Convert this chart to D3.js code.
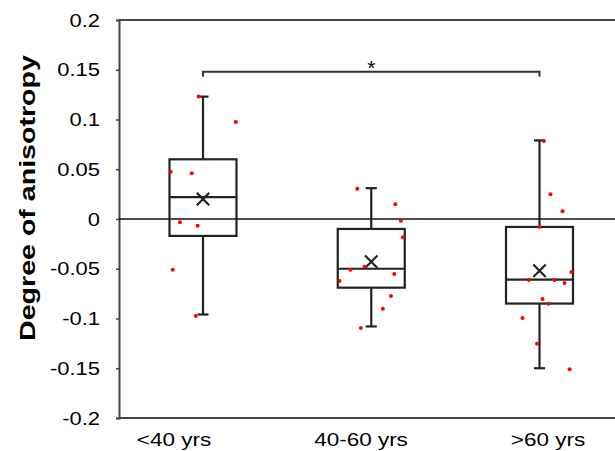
<!DOCTYPE html>
<html>
<head>
<meta charset="utf-8">
<script src="https://cdn.jsdelivr.net/npm/d3@7"></script>
<style>
  body { margin: 0; background: #fff; }
  svg { display: block; font-family: "Liberation Sans", Arial, sans-serif; }
</style>
</head>
<body>
<div id="chart"></div>
<script>
// categories and box stats
const groups = ["<40 yrs", "40-60 yrs", ">60 yrs"];
const whiskerLow = [-0.096, -0.108, -0.150];
const q1 = [-0.017, -0.069, -0.085];
const median = [0.022, -0.050, -0.061];
const q3 = [0.060, -0.010, -0.008];
const whiskerHigh = [0.123, 0.031, 0.079];
const means = [0.020, -0.043, -0.052];

// individual points: value and horizontal jitter (in category units)
const pointsLt40 = [0.123, 0.0975, 0.0476, 0.046, -0.0033, -0.0067, -0.051, -0.0975];
const jitterLt40 = [-0.026, 0.195, -0.192, -0.067, -0.137, -0.032, -0.18, -0.043];
const points40to60 = [0.0305, 0.0148, -0.0017, -0.0184, -0.048, -0.051, -0.0553, -0.0623, -0.0774, -0.0901, -0.1095];
const jitter40to60 = [-0.083, 0.143, 0.176, 0.188, -0.04, -0.123, 0.137, -0.189, 0.117, 0.069, -0.062];
const pointsGt60 = [0.0784, 0.0248, 0.0077, -0.0077, -0.0533, -0.0613, -0.0613, -0.0643, -0.0804, -0.0851, -0.0995, -0.1253, -0.151];
const jitterGt60 = [0.026, 0.065, 0.137, 0, 0.19, -0.063, 0.089, 0.149, 0.018, 0.054, -0.101, -0.015, 0.179];

const yTicks = [0.2, 0.15, 0.1, 0.05, 0, -0.05, -0.1, -0.15, -0.2];
const sigPair = [0, 2];
const sigValue = 0.148;

const width = 615, height = 451;
const svg = d3.select("#chart").append("svg")
    .attr("width", width).attr("height", height);

const y = d3.scaleLinear().domain([-0.2, 0.2]).range([418, 20]);
const x = d3.scaleLinear().domain([0, 2]).range([203, 539.5]);   // box positions
const xLab = d3.scaleLinear().domain([0, 2]).range([174, 548]);  // category labels sit on their own axis
const boxW = 67, capW = 11;
const ink = "#222";

// stretched text helper (the picture's text is wider than plain Arial)
function stretchText(g, tx, ty, sx, txt, anchor, size, weight, rot) {
    return g.append("text")
        .attr("transform", `translate(${tx},${ty})` + (rot ? ` rotate(${rot})` : "") + ` scale(${sx},1)`)
        .attr("text-anchor", anchor)
        .attr("font-size", size)
        .attr("font-weight", weight || "normal")
        .attr("fill", "#000")
        .text(txt);
}

// frame
svg.append("line").attr("x1", 119).attr("x2", width).attr("y1", y(0.2)).attr("y2", y(0.2))
    .attr("stroke", "#444").attr("stroke-width", 2);
svg.append("line").attr("x1", 119).attr("x2", width).attr("y1", y(-0.2)).attr("y2", y(-0.2))
    .attr("stroke", "#444").attr("stroke-width", 2);

// y axis
const yAxis = d3.axisLeft(y).tickValues(yTicks).tickSize(3).tickFormat("");
const ya = svg.append("g").attr("transform", "translate(119,0)").call(yAxis);
ya.select(".domain").attr("stroke", "#444").attr("stroke-width", 2);
ya.selectAll(".tick line").attr("stroke", "#444").attr("stroke-width", 1.5);
yTicks.forEach(t => stretchText(svg, 100, y(t) + 6.5, 1.22, String(t), "end", 18));

// zero line
svg.append("line").attr("x1", 119).attr("x2", width).attr("y1", y(0)).attr("y2", y(0))
    .attr("stroke", "#111").attr("stroke-width", 1.6);

// x labels
groups.forEach((g, i) => stretchText(svg, xLab(i), 446, 1.25, g, "middle", 18));

// y title
stretchText(svg, 35, 198, 1.3, "Degree of anisotropy", "middle", 22, "bold", -90);

// boxes
const boxes = svg.append("g");
groups.forEach((g, i) => {
    const cx = x(i);
    const line = (x1, y1, x2, y2) => boxes.append("line")
        .attr("x1", x1).attr("y1", y1).attr("x2", x2).attr("y2", y2)
        .attr("stroke", ink).attr("stroke-width", 2.2);
    line(cx, y(whiskerHigh[i]), cx, y(q3[i]));
    line(cx, y(q1[i]), cx, y(whiskerLow[i]));
    line(cx - capW / 2, y(whiskerHigh[i]), cx + capW / 2, y(whiskerHigh[i]));
    line(cx - capW / 2, y(whiskerLow[i]), cx + capW / 2, y(whiskerLow[i]));
    boxes.append("rect")
        .attr("x", cx - boxW / 2).attr("y", y(q3[i]))
        .attr("width", boxW).attr("height", y(q1[i]) - y(q3[i]))
        .attr("fill", "none").attr("stroke", ink).attr("stroke-width", 2.2);
    line(cx - boxW / 2, y(median[i]), cx + boxW / 2, y(median[i]));
    // mean marker
    const m = 6.2, my = y(means[i]);
    line(cx - m, my - m, cx + m, my + m);
    line(cx - m, my + m, cx + m, my - m);
});

// points
const pointSets = [
    pointsLt40.map((v, j) => ({ g: 0, v, dx: jitterLt40[j] })),
    points40to60.map((v, j) => ({ g: 1, v, dx: jitter40to60[j] })),
    pointsGt60.map((v, j) => ({ g: 2, v, dx: jitterGt60[j] }))
].flat();
svg.append("g").selectAll("circle").data(pointSets).enter().append("circle")
    .attr("cx", d => x(d.g + d.dx))
    .attr("cy", d => y(d.v))
    .attr("r", 2)
    .attr("fill", "#ff0000");

// significance bracket
const by = y(sigValue);
svg.append("path")
    .attr("d", `M${x(sigPair[0])},${by + 5}V${by}H${x(sigPair[1])}V${by + 5}`)
    .attr("fill", "none").attr("stroke", "#333").attr("stroke-width", 2);
svg.append("text")
    .attr("x", (x(sigPair[0]) + x(sigPair[1])) / 2)
    .attr("y", by + 3)
    .attr("text-anchor", "middle")
    .attr("font-size", 21)
    .text("*");
</script>
</body>
</html>
